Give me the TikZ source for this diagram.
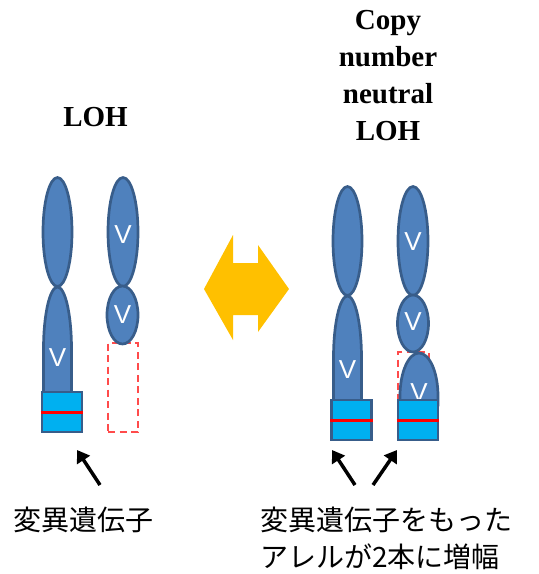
\documentclass[tikz,border=0pt]{standalone}
\usepackage{fontspec}
\setmainfont{Liberation Serif}
\newfontfamily\jpfont{Noto Sans CJK JP}
\newfontfamily\allelefont{Liberation Sans}
\usetikzlibrary{shapes.geometric,arrows.meta}
\definecolor{chromfill}{HTML}{4F81BD}
\definecolor{chromedge}{HTML}{385D8A}
\definecolor{genebox}{HTML}{00B0F0}
\definecolor{lossred}{HTML}{FF4B4B}
\definecolor{swapyellow}{HTML}{FFC000}
\tikzset{
  arm/.style={ellipse, draw=chromedge, fill=chromfill, line width=2.7pt, inner sep=0pt},
  armpath/.style={draw=chromedge, fill=chromfill, line width=2.7pt},
  allele/.style={text=white, font=\allelefont\fontsize{26}{26}\selectfont, inner sep=0pt},
  genecell/.style={rectangle, draw=chromedge, fill=genebox, line width=2.7pt, inner sep=0pt,
                   minimum width=40pt, minimum height=40pt},
  lostseg/.style={rectangle, draw=lossred, dash pattern=on 7pt off 4.5pt, line width=2.7pt, inner sep=0pt},
  mutline/.style={draw=red, line width=3pt},
  pointer/.style={-{Triangle[length=12pt,width=15pt]}, line width=3.5pt, black},
  title/.style={font=\bfseries\fontsize{29}{37}\selectfont, align=center, inner sep=0pt},
  caption/.style={font=\jpfont\fontsize{28}{37}\selectfont, anchor=west, inner sep=0pt, align=left}
}
\begin{document}
\begin{tikzpicture}[x=1pt,y=-1pt]
\useasboundingbox (0,0) rectangle (539,574);

% titles (a multi-line node sits on the baseline of its last line)
\node[title, anchor=base] (tloh) at (95.5,126) {LOH};
\node[title, anchor=base] (tcn) at (388,140) {Copy\\number\\neutral\\LOH};

% ---- LOH: chromosome with the mutant gene ----
\path[armpath] (43.5,398) -- (43.5,349)
  arc[start angle=180, end angle=0, x radius=14pt, y radius=62pt] -- (71.5,398) -- cycle;
\node[arm, minimum width=29pt, minimum height=109pt] (a1) at (57.5,232) {};
\node[allele] (v1) at (57.5,358) {V};
\node[genecell] (g1) at (62,412) {};
\draw[mutline] (g1.west) -- (g1.east);

% ---- LOH: partner chromosome with the lost segment ----
\node[lostseg, minimum width=30pt, minimum height=89pt] (d2) at (123,387.5) {};
\node[arm, minimum width=30pt, minimum height=109pt] (a2) at (123,232) {};
\node[arm, minimum width=31pt, minimum height=58pt] (b2) at (122.5,315) {};
\node[allele] (v2a) at (123,235) {V};
\node[allele] (v2b) at (122.5,315) {V};

% ---- double arrow between the two cases ----
\fill[swapyellow] (204,289) -- (233,235) -- (233,263) -- (258,263) -- (258,245)
  -- (289,289) -- (258,332) -- (258,315) -- (233,315) -- (233,340) -- cycle;

% ---- copy number neutral LOH: first chromosome ----
\path[armpath] (333.5,405) -- (333.5,358)
  arc[start angle=180, end angle=0, x radius=14pt, y radius=62pt] -- (361.5,405) -- cycle;
\node[arm, minimum width=29pt, minimum height=109pt] (a3) at (347.5,241) {};
\node[allele] (v3) at (347.5,370) {V};
\node[genecell] (g3) at (351.5,420) {};
\draw[mutline] (g3.west) -- (g3.east);

% ---- copy number neutral LOH: chromosome with the duplicated segment ----
\node[lostseg, minimum width=31pt, minimum height=80pt] (d4) at (413.5,392) {};
\node[arm, minimum width=30pt, minimum height=109pt] (a4) at (413,241) {};
\node[arm, minimum width=31pt, minimum height=57pt] (b4) at (413,323.5) {};
\node[allele] (v4a) at (413,242) {V};
\node[allele] (v4b) at (413,322) {V};
\path[armpath] (400,405) -- (400,396)
  arc[start angle=180, end angle=0, x radius=19pt, y radius=43pt] -- (438,405) -- cycle;
\node[allele] (v4c) at (419,393) {V};
\node[genecell] (g4) at (418,420) {};
\draw[mutline] (g4.west) -- (g4.east);

% ---- pointers to the mutant gene ----
\coordinate (p1t) at (100,485);
\coordinate (p1h) at (77,450);
\coordinate (p3t) at (355,485);
\coordinate (p3h) at (332,450);
\coordinate (p4t) at (373,485);
\coordinate (p4h) at (397,450);
\draw[pointer] (p1t) -- (p1h);
\draw[pointer] (p3t) -- (p3h);
\draw[pointer] (p4t) -- (p4h);

% captions
\node[caption] (c1) at (13,520) {変異遺伝子};
\node[caption] (c2) at (260,520) {変異遺伝子をもった};
\node[caption] (c3) at (260,557) {アレルが2本に増幅};
\end{tikzpicture}
\end{document}
